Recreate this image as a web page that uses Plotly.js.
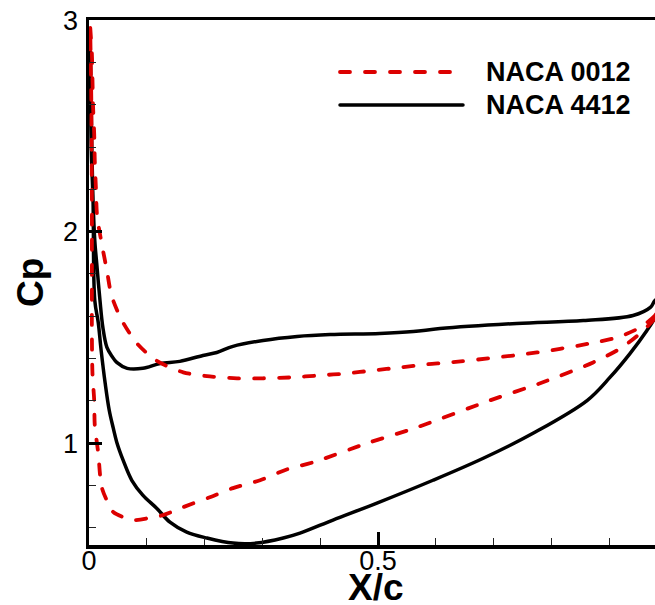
<!DOCTYPE html>
<html>
<head>
<meta charset="utf-8">
<script src="https://cdn.plot.ly/plotly-3.0.1.min.js"></script>
<style>
  html, body { margin: 0; padding: 0; background: #fff; }
  #chart { width: 655px; height: 605px; }
  .js-line, .shapelayer path { stroke-linecap: round; stroke-linejoin: round; }
</style>
</head>
<body>
<div id="chart"></div>
<script>
// NACA 0012 — side A (higher Cp branch), from leading edge to trailing edge
const naca0012_sideA_x  = [0.002, 0.005, 0.006, 0.007, 0.009, 0.010, 0.012, 0.014, 0.022, 0.031, 0.039, 0.057, 0.083, 0.116, 0.163, 0.209, 0.256, 0.301, 0.348, 0.400, 0.446, 0.491, 0.538, 0.585, 0.625, 0.775, 0.867, 0.913, 0.953, 0.979, 1.000];
const naca0012_sideA_cp = [2.97, 2.84, 2.72, 2.594, 2.462, 2.335, 2.203, 2.075, 1.943, 1.816, 1.698, 1.580, 1.472, 1.392, 1.335, 1.316, 1.307, 1.307, 1.311, 1.321, 1.330, 1.344, 1.358, 1.373, 1.382, 1.429, 1.472, 1.500, 1.547, 1.604, 1.68];
// NACA 0012 — side B (lower Cp branch)
const naca0012_sideB_x  = [0.002, 0.004, 0.005, 0.005, 0.005, 0.006, 0.009, 0.010, 0.016, 0.022, 0.033, 0.042, 0.076, 0.111, 0.128, 0.163, 0.209, 0.249, 0.296, 0.343, 0.388, 0.481, 0.567, 0.694, 0.785, 0.872, 0.919, 0.953, 0.979, 1.000];
const naca0012_sideB_cp = [2.97, 2.62, 2.146, 1.736, 1.519, 1.33, 1.203, 1.085, 0.953, 0.792, 0.717, 0.675, 0.637, 0.651, 0.660, 0.698, 0.745, 0.788, 0.825, 0.877, 0.910, 1.0, 1.075, 1.203, 1.288, 1.382, 1.448, 1.519, 1.590, 1.68];
// NACA 4412 — side A (higher Cp branch)
const naca4412_sideA_x  = [0.002, 0.005, 0.007, 0.010, 0.014, 0.019, 0.024, 0.031, 0.040, 0.048, 0.066, 0.093, 0.123, 0.157, 0.197, 0.221, 0.249, 0.301, 0.360, 0.417, 0.503, 0.561, 0.607, 0.740, 0.855, 0.941, 0.971, 0.979, 1.000];
const naca4412_sideA_cp = [2.9, 2.38, 2.146, 1.958, 1.830, 1.675, 1.547, 1.453, 1.410, 1.382, 1.354, 1.354, 1.377, 1.387, 1.415, 1.429, 1.458, 1.486, 1.505, 1.514, 1.519, 1.528, 1.542, 1.566, 1.580, 1.604, 1.642, 1.675, 1.72];
// NACA 4412 — side B (lower Cp branch)
const naca4412_sideB_x  = [0.002, 0.004, 0.007, 0.010, 0.016, 0.021, 0.028, 0.035, 0.042, 0.048, 0.059, 0.074, 0.093, 0.117, 0.140, 0.169, 0.204, 0.249, 0.290, 0.336, 0.365, 0.422, 0.498, 0.595, 0.682, 0.768, 0.862, 0.901, 0.936, 0.965, 0.979, 1.000];
const naca4412_sideB_cp = [2.9, 2.38, 2.146, 1.675, 1.571, 1.439, 1.283, 1.156, 1.071, 1.005, 0.920, 0.825, 0.755, 0.693, 0.627, 0.580, 0.552, 0.528, 0.528, 0.552, 0.575, 0.637, 0.717, 0.825, 0.929, 1.047, 1.203, 1.311, 1.425, 1.533, 1.594, 1.72];

const seriesNames = ["NACA 0012", "NACA 4412"];
const xTickLabels = ["0", "0.5"];
const yTickLabels = ["1", "2", "3"];

const RED = '#dc0000';
const FONT = 'Liberation Sans, Arial, Helvetica, sans-serif';

function loop(ax, ay, bx, by) {
  return {
    x: ax.slice().reverse().concat(bx),
    y: ay.slice().reverse().concat(by)
  };
}
const l0012 = loop(naca0012_sideA_x, naca0012_sideA_cp, naca0012_sideB_x, naca0012_sideB_cp);
const l4412 = loop(naca4412_sideA_x, naca4412_sideA_cp, naca4412_sideB_x, naca4412_sideB_cp);

const traces = [
  { x: l4412.x, y: l4412.y, mode: 'lines', name: seriesNames[1],
    line: { color: '#000', width: 3.5, shape: 'spline', smoothing: 1 } },
  { x: l0012.x, y: l0012.y, mode: 'lines', name: seriesNames[0],
    line: { color: RED, width: 3.8, dash: '10px,15px', shape: 'spline', smoothing: 0.8 } }
];

const W = 655, H = 605, L = 89, T = 20, B = 60;
const PW = W - L, PH = H - T - B;
const px = v => (v - L) / PW;
const py = v => (H - B - v) / PH;

const layout = {
  width: W, height: H,
  margin: { l: L, r: 0, t: T, b: B, pad: 0 },
  paper_bgcolor: '#fff', plot_bgcolor: '#fff',
  showlegend: false,
  font: { family: FONT, color: '#000' },
  xaxis: {
    range: [0, 0.979],
    tickmode: 'array', tickvals: [0, 0.5], ticktext: xTickLabels,
    ticks: 'inside', ticklen: 13, tickwidth: 3, tickcolor: '#000',
    showline: true, linewidth: 3.5, linecolor: '#000', mirror: true,
    showgrid: false, zeroline: false,
    tickfont: { size: 27, family: FONT, color: '#000' },
    ticklabelstandoff: -11,
    minor: { tick0: 0, dtick: 0.1, ticks: 'inside', ticklen: 7, tickwidth: 1, tickcolor: '#222', showgrid: false }
  },
  yaxis: {
    range: [0.519, 3.0005],
    tickmode: 'array', tickvals: [1, 2, 3], ticktext: yTickLabels,
    ticks: 'inside', ticklen: 13, tickwidth: 3, tickcolor: '#000',
    showline: true, linewidth: 3.5, linecolor: '#000', mirror: false,
    showgrid: false, zeroline: false,
    tickfont: { size: 27, family: FONT, color: '#000' },
    ticklabelstandoff: 2,
    minor: { tick0: 0, dtick: 0.2, ticks: 'inside', ticklen: 7, tickwidth: 1, tickcolor: '#222', showgrid: false }
  },
  shapes: [
    { type: 'line', xref: 'paper', yref: 'paper', x0: px(340), x1: px(463), y0: py(72), y1: py(72),
      line: { color: RED, width: 3.8, dash: '10px,15px' } },
    { type: 'line', xref: 'paper', yref: 'paper', x0: px(340), x1: px(463), y0: py(105), y1: py(105),
      line: { color: '#000', width: 3.5 } }
  ],
  annotations: [
    { text: '<b>' + seriesNames[0] + '</b>', xref: 'paper', yref: 'paper', x: px(484), y: py(72),
      xanchor: 'left', yanchor: 'middle', showarrow: false, font: { size: 27, family: FONT, color: '#000' } },
    { text: '<b>' + seriesNames[1] + '</b>', xref: 'paper', yref: 'paper', x: px(484), y: py(105),
      xanchor: 'left', yanchor: 'middle', showarrow: false, font: { size: 27, family: FONT, color: '#000' } },
    { text: '<b>X/c</b>', xref: 'paper', yref: 'paper', x: px(376), y: py(587),
      xanchor: 'center', yanchor: 'middle', showarrow: false, font: { size: 37, family: FONT, color: '#000' } },
    { text: '<b>Cp</b>', xref: 'paper', yref: 'paper', x: px(30), y: py(283), textangle: -90,
      xanchor: 'center', yanchor: 'middle', showarrow: false, font: { size: 37, family: FONT, color: '#000' } }
  ]
};

Plotly.newPlot('chart', traces, layout, { staticPlot: true, displayModeBar: false });
</script>
</body>
</html>
